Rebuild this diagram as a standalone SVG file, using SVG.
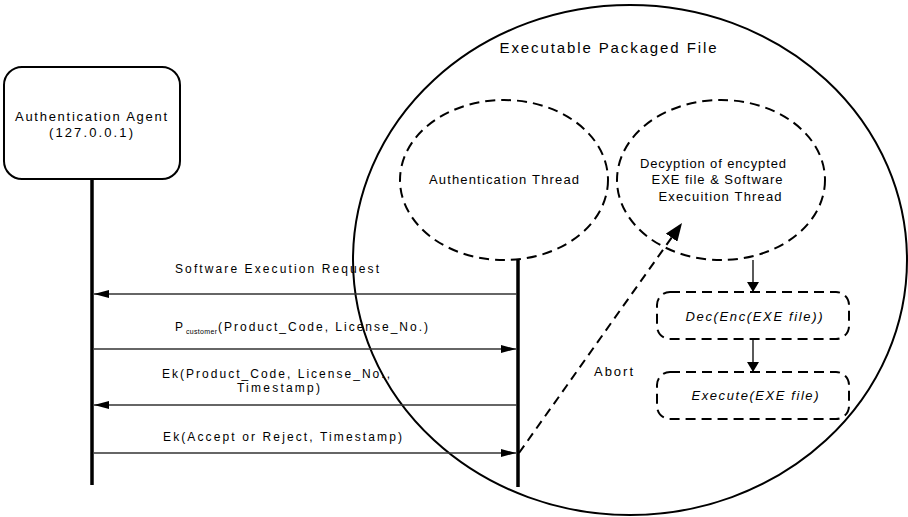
<svg xmlns="http://www.w3.org/2000/svg" width="908" height="517" viewBox="0 0 908 517">
<style>
text{font-family:"Liberation Sans",Arial,sans-serif;fill:#000;}
.t{font-size:13px;}
.lbl{font-size:12px;}
.it{font-size:13px;font-style:italic;}
.solid{fill:none;stroke:#000;stroke-width:2;}
.dash{fill:none;stroke:#000;stroke-width:2;stroke-dasharray:10 6;}
.life{stroke:#000;stroke-width:3.5;}
.msg{stroke:#333;stroke-width:1.3;fill:none;}
</style>
<defs>
<marker id="ah" viewBox="0 0 15 8" refX="15" refY="4" markerWidth="15" markerHeight="8" markerUnits="userSpaceOnUse" orient="auto">
<path d="M0,0 L15,4 L0,8 Z" fill="#000"/>
</marker>
<marker id="ahs" viewBox="0 0 10 12" refX="10" refY="6" markerWidth="10" markerHeight="12" markerUnits="userSpaceOnUse" orient="auto">
<path d="M0,0 L10,6 L0,12 Z" fill="#000"/>
</marker>
<marker id="ahb" viewBox="0 0 18 14" refX="18" refY="7" markerWidth="18" markerHeight="14" markerUnits="userSpaceOnUse" orient="auto">
<path d="M0,0 L18,7 L0,14 Z" fill="#000"/>
</marker>
</defs>

<g id="package">
<ellipse class="solid" cx="630" cy="260" rx="277" ry="255"/>
<text x="608" y="53" font-size="15" text-anchor="middle" textLength="217" lengthAdjust="spacing">Executable Packaged File</text>
</g>

<g id="agent">
<rect x="4" y="67" width="176" height="112" rx="18" ry="18" class="solid"/>
<text class="t" x="91" y="121" text-anchor="middle" textLength="152" lengthAdjust="spacing">Authentication Agent</text>
<text class="t" x="91" y="137" text-anchor="middle" textLength="84" lengthAdjust="spacing">(127.0.0.1)</text>
</g>

<g id="auth-thread">
<ellipse class="dash" cx="504" cy="180" rx="104" ry="80"/>
<text class="t" x="504" y="184" text-anchor="middle" textLength="150" lengthAdjust="spacing">Authentication Thread</text>
</g>

<g id="exec-thread">
<ellipse class="dash" cx="721" cy="180" rx="104" ry="80"/>
<text class="t" x="713" y="168" text-anchor="middle" textLength="146" lengthAdjust="spacing">Decyption of encypted</text>
<text class="t" x="717" y="184" text-anchor="middle" textLength="131" lengthAdjust="spacing">EXE file &amp; Software</text>
<text class="t" x="720" y="201" text-anchor="middle" textLength="123" lengthAdjust="spacing">Execuition Thread</text>
</g>

<g id="dec-box">
<rect class="dash" x="657" y="292" width="192" height="47" rx="13" ry="13"/>
<text class="it" x="754" y="321" text-anchor="middle" textLength="137" lengthAdjust="spacing">Dec(Enc(EXE file))</text>
</g>

<g id="exec-box">
<rect class="dash" x="657" y="372" width="192" height="47" rx="13" ry="13"/>
<text class="it" x="755" y="400" text-anchor="middle" textLength="127" lengthAdjust="spacing">Execute(EXE file)</text>
</g>

<g id="lifelines">
<line class="life" x1="92" y1="179" x2="92" y2="485"/>
<line class="life" x1="518" y1="260" x2="518" y2="487"/>
</g>

<g id="connectors">
<line class="msg" x1="517" y1="294" x2="94" y2="294" marker-end="url(#ah)"/>
<text class="lbl" x="277" y="273" text-anchor="middle" textLength="204" lengthAdjust="spacing">Software Execution Request</text>

<line class="msg" x1="94" y1="349" x2="516" y2="349" marker-end="url(#ah)"/>
<text class="lbl"><tspan x="175" y="331">P</tspan><tspan x="186" y="334" font-size="7" textLength="31" lengthAdjust="spacing">customer</tspan><tspan x="218" y="331" textLength="210" lengthAdjust="spacing">(Product_Code, License_No.)</tspan></text>

<line class="msg" x1="517" y1="405" x2="94" y2="405" marker-end="url(#ah)"/>
<text class="lbl" x="162" y="378" textLength="228" lengthAdjust="spacing">Ek(Product_Code, License_No.,</text>
<text class="lbl" x="237" y="392" textLength="83" lengthAdjust="spacing">Timestamp)</text>

<line class="msg" x1="94" y1="453" x2="516" y2="453" marker-end="url(#ah)"/>
<text class="lbl" x="163" y="441" textLength="239" lengthAdjust="spacing">Ek(Accept or Reject, Timestamp)</text>

<line x1="519" y1="453" x2="682" y2="223" stroke="#000" stroke-width="2" stroke-dasharray="9 6" marker-end="url(#ahb)"/>
<text class="t" x="594" y="376" textLength="39" lengthAdjust="spacing">Abort</text>

<line x1="753" y1="260" x2="753" y2="292" stroke="#000" stroke-width="1.3" marker-end="url(#ahs)"/>
<line x1="753" y1="339" x2="753" y2="372" stroke="#000" stroke-width="1.3" marker-end="url(#ahs)"/>
</g>
</svg>
